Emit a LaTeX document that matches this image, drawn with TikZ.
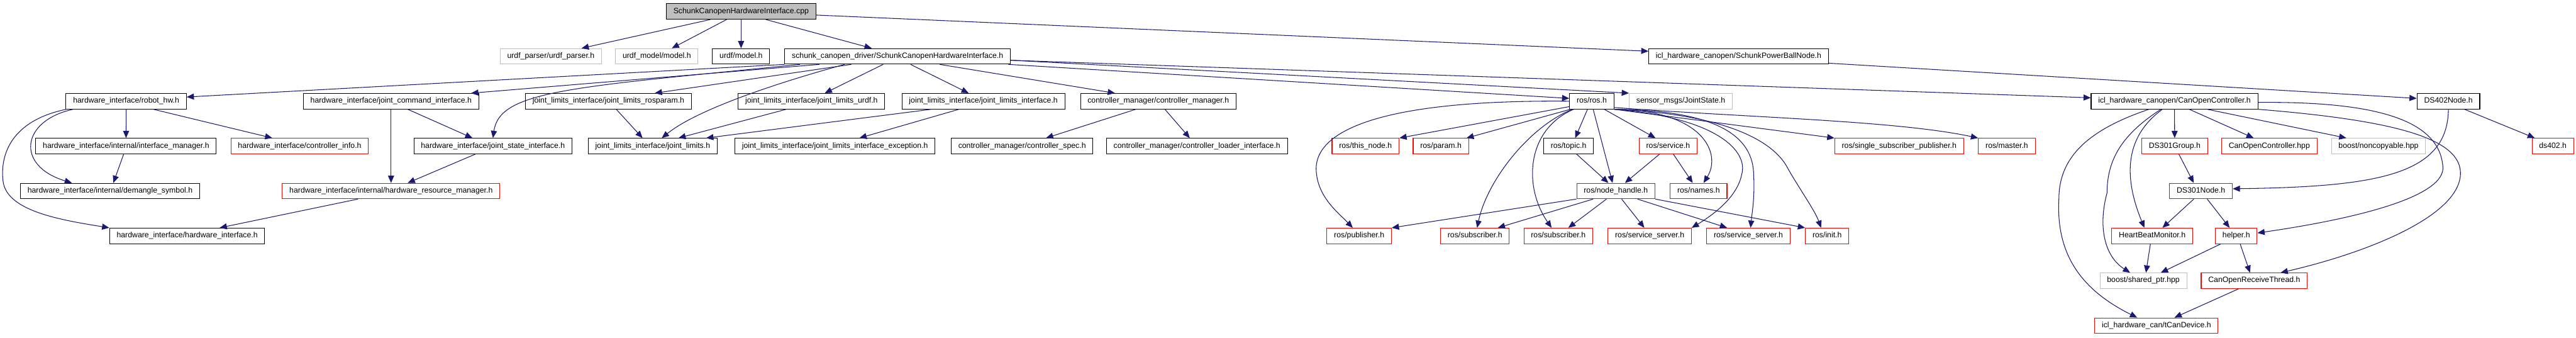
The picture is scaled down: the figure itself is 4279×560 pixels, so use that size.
\documentclass[tikz,border=0pt]{standalone}
\usepackage{fontspec}
\setmainfont{Liberation Sans}
\usetikzlibrary{arrows.meta}
\definecolor{edgeblue}{HTML}{191970}
\definecolor{greyline}{HTML}{BFBFBF}
\begin{document}
\begin{tikzpicture}[x=1pt,y=-1pt,
 hdr/.style={draw=black,line width=1.1pt,minimum height=25.7pt,inner xsep=11.8pt,inner ysep=0pt,
  font=\fontsize{12.84}{15}\selectfont,text height=9pt,text depth=3pt},
 hdrred/.style={hdr,draw=red},
 hdrgrey/.style={hdr,draw=greyline},
 dep/.style={draw=edgeblue,line width=1.1pt,-{Triangle[length=12pt,width=10pt]}}]
\useasboundingbox (0,0) rectangle (4279,560);
\node[hdr,fill=greyline] (root) at (1231,19) {SchunkCanopenHardwareInterface.cpp};
\node[hdrgrey] (urdfp) at (915,93.5) {urdf\_parser/urdf\_parser.h};
\node[hdrgrey] (urdfm) at (1091,93.5) {urdf\_model/model.h};
\node[hdr] (urdf) at (1231,93.5) {urdf/model.h};
\node[hdr] (schi) at (1491,93.5) {schunk\_canopen\_driver/SchunkCanopenHardwareInterface.h};
\node[hdr] (pball) at (2888,93.5) {icl\_hardware\_canopen/SchunkPowerBallNode.h};
\node[hdr] (robothw) at (209.6,168) {hardware\_interface/robot\_hw.h};
\node[hdr] (jcmd) at (649.6,168) {hardware\_interface/joint\_command\_interface.h};
\node[hdr] (jlros) at (1010.7,168) {joint\_limits\_interface/joint\_limits\_rosparam.h};
\node[hdr] (jlurdf) at (1348,168) {joint\_limits\_interface/joint\_limits\_urdf.h};
\node[hdr] (jlif) at (1633.5,168) {joint\_limits\_interface/joint\_limits\_interface.h};
\node[hdr] (cmgr) at (1924,168) {controller\_manager/controller\_manager.h};
\node[hdr] (ros) at (2644,168) {ros/ros.h};
\node[hdrgrey] (smsg) at (2792,168) {sensor\_msgs/JointState.h};
\node[hdr] (coc) at (3612,168) {icl\_hardware\_canopen/CanOpenController.h};
\node[hdr] (ds402n) at (4067,168) {DS402Node.h};
\node[hdr] (ifmgr) at (209.4,242.5) {hardware\_interface/internal/interface\_manager.h};
\node[hdrred] (cinfo) at (497.8,242.5) {hardware\_interface/controller\_info.h};
\node[hdr] (jstate) at (818.8,242.5) {hardware\_interface/joint\_state\_interface.h};
\node[hdr] (jl) at (1084.3,242.5) {joint\_limits\_interface/joint\_limits.h};
\node[hdr] (jlexc) at (1387,242.5) {joint\_limits\_interface/joint\_limits\_interface\_exception.h};
\node[hdr] (cspec) at (1697.8,242.5) {controller\_manager/controller\_spec.h};
\node[hdr] (cload) at (1988.3,242.5) {controller\_manager/controller\_loader\_interface.h};
\node[hdrred] (thisnode) at (2268.3,242.5) {ros/this\_node.h};
\node[hdrred] (param) at (2393.4,242.5) {ros/param.h};
\node[hdr] (topic) at (2605.5,242.5) {ros/topic.h};
\node[hdrred] (service) at (2770.9,242.5) {ros/service.h};
\node[hdrred] (ssp) at (3154.7,242.5) {ros/single\_subscriber\_publisher.h};
\node[hdrred] (master) at (3333.5,242.5) {ros/master.h};
\node[hdrred] (ds301g) at (3612.3,242.5) {DS301Group.h};
\node[hdrred] (cochpp) at (3769.5,242.5) {CanOpenController.hpp};
\node[hdrgrey] (noncopy) at (3950.9,242.5) {boost/noncopyable.hpp};
\node[hdrred] (ds402) at (4240.5,242.5) {ds402.h};
\node[hdr] (demangle) at (182.8,317) {hardware\_interface/internal/demangle\_symbol.h};
\node[hdrred] (hrm) at (649.6,317) {hardware\_interface/internal/hardware\_resource\_manager.h};
\node[hdrred] (nodeh) at (2684,317) {ros/node\_handle.h};
\node[hdrred] (names) at (2821.5,317) {ros/names.h};
\node[hdrred] (ds301n) at (3656,317) {DS301Node.h};
\node[hdr] (hwif) at (310.9,391.5) {hardware\_interface/hardware\_interface.h};
\node[hdrred] (pub) at (2257.7,391.5) {ros/publisher.h};
\node[hdrred] (sub1) at (2450,391.5) {ros/subscriber.h};
\node[hdrred] (sub2) at (2588.4,391.5) {ros/subscriber.h};
\node[hdrred] (srv1) at (2740.3,391.5) {ros/service\_server.h};
\node[hdrred] (srv2) at (2904.2,391.5) {ros/service\_server.h};
\node[hdrred] (init) at (3035,391.5) {ros/init.h};
\node[hdrred] (hbm) at (3575,391.5) {HeartBeatMonitor.h};
\node[hdrred] (helper) at (3714.6,391.5) {helper.h};
\node[hdrgrey] (sptr) at (3560.3,466) {boost/shared\_ptr.hpp};
\node[hdrred] (crt) at (3744.5,466) {CanOpenReceiveThread.h};
\node[hdrred] (tcan) at (3582,540.5) {icl\_hardware\_can/tCanDevice.h};
\draw[dep] ([xshift=-51pt]root.south) -- ([xshift=51pt]urdfp.north);
\draw[dep] ([xshift=-24pt]root.south) -- ([xshift=25pt]urdfm.north);
\draw[dep] (root.south) -- (urdf.north);
\draw[dep] ([xshift=41pt]root.south) -- ([xshift=-43pt]schi.north);
\draw[dep] ([yshift=-6pt]root.east) -- ([yshift=8.5pt]pball.west);
\draw[dep] (schi.south west) -- ([yshift=7pt]robothw.east);
\draw[dep] ([xshift=-130pt]schi.south) -- ([xshift=133pt]jcmd.north);
\draw[dep] ([xshift=-162pt]schi.south) .. controls (950,145) and (830,150) .. (jstate.north);
\draw[dep] ([xshift=-77pt]schi.south) -- ([xshift=77pt]jlros.north);
\draw[dep] ([xshift=-88pt]schi.south) .. controls (1300,135) and (1160,180) .. ([xshift=15pt]jl.north);
\draw[dep] ([xshift=-24pt]schi.south) -- ([xshift=22pt]jlurdf.north);
\draw[dep] ([xshift=21.5pt]schi.south) -- ([xshift=-24.5pt]jlif.north);
\draw[dep] ([xshift=70pt]schi.south) -- ([xshift=-72pt]cmgr.north);
\draw[dep] ([xshift=-4pt]schi.south east) -- ([yshift=4.7pt]ros.west);
\draw[dep] ([yshift=-6.5pt]schi.east) -- (smsg.north west);
\draw[dep] ([yshift=-6.5pt]schi.east) -- ([yshift=5.7pt]coc.west);
\draw[dep] ([yshift=2pt]pball.south east) -- ([yshift=4.7pt]ds402n.west);
\draw[dep] (robothw.south) -- (ifmgr.north);
\draw[dep] ([xshift=45pt]robothw.south) -- ([xshift=-45.5pt]cinfo.north);
\draw[dep] ([xshift=-88pt]robothw.south) .. controls (35,200) and (25,275) .. ([xshift=-63.4pt]demangle.north);
\draw[dep] ([xshift=-99.4pt]robothw.south) .. controls (20,200) and (0,255) .. (5,300)
 .. controls (10,350) and (100,365) .. (hwif.north west);
\draw[dep] ([xshift=-4pt]ifmgr.south) -- ([xshift=5.5pt]demangle.north);
\draw[dep] ([xshift=27.7pt]jcmd.south) -- ([xshift=-34pt]jstate.north);
\draw[dep] (jcmd.south) -- (hrm.north);
\draw[dep] ([xshift=-29.3pt]jstate.south) -- ([xshift=27.7pt]hrm.north);
\draw[dep] ([xshift=-55pt]hrm.south) -- ([xshift=54pt]hwif.north);
\draw[dep] ([xshift=13pt]jlros.south) -- ([xshift=-17pt]jl.north);
\draw[dep] ([xshift=-42pt]jlurdf.south) -- ([xshift=42.7pt]jl.north);
\draw[dep] ([xshift=-86.5pt]jlif.south) -- ([xshift=88.7pt]jl.north);
\draw[dep] ([xshift=-40.6pt]jlif.south) -- ([xshift=40.6pt]jlexc.north);
\draw[dep] ([xshift=-37.3pt]cmgr.south) -- ([xshift=39.7pt]cspec.north);
\draw[dep] ([xshift=11pt]cmgr.south) -- ([xshift=-12pt]cload.north);
\draw[dep] (ros.west) .. controls (2300,165) and (2175,215) .. (2187,290)
 .. controls (2192,330) and (2225,355) .. ([xshift=-10.7pt]pub.north);
\draw[dep] ([yshift=-9pt]ros.west) -- (thisnode.north east);
\draw[dep] ([xshift=2pt]ros.south west) -- ([xshift=-4pt]param.north east);
\draw[dep] ([xshift=-32pt]ros.south) .. controls (2540,210) and (2470,300) .. ([xshift=3.6pt]sub1.north);
\draw[dep] ([xshift=-30pt]ros.south) .. controls (2535,215) and (2530,310) .. ([xshift=-11pt]sub2.north);
\draw[dep] ([xshift=-7pt]ros.south) -- ([xshift=11pt]topic.north);
\draw[dep] ([xshift=2.4pt]ros.south) -- ([xshift=-5.4pt]nodeh.north);
\draw[dep] ([xshift=20.8pt]ros.south) -- ([xshift=-21pt]service.north);
\draw[dep] (ros.south east) .. controls (2830,183) and (2860,255) .. ([xshift=8.3pt]names.north);
\draw[dep] (ros.south east) .. controls (2850,195) and (2905,250) .. (2893,290)
 .. controls (2885,330) and (2840,360) .. (srv1.north east);
\draw[dep] (ros.south east) .. controls (2860,183) and (2912,230) .. (2913,290)
 .. controls (2915,330) and (2910,355) .. ([xshift=3.7pt]srv2.north);
\draw[dep] (ros.south east) .. controls (2880,190) and (2950,240) .. (2970,280)
 .. controls (2990,315) and (3015,350) .. ([xshift=-10pt]init.north);
\draw[dep] (ros.south east) -- (ssp.north west);
\draw[dep] ([yshift=3pt]ros.south east) .. controls (2900,195) and (3150,200) .. (master.north west);
\draw[dep] ([xshift=13.4pt]topic.south) -- ([xshift=-12.3pt]nodeh.north);
\draw[dep] ([xshift=-14.3pt]service.south) -- ([xshift=15.2pt]nodeh.north);
\draw[dep] ([xshift=8.7pt]service.south) -- ([xshift=-9.8pt]names.north);
\draw[dep] (nodeh.south west) -- (pub.north east);
\draw[dep] ([xshift=-37.6pt]nodeh.south) -- ([xshift=38pt]sub1.north);
\draw[dep] ([xshift=-15.5pt]nodeh.south) -- ([xshift=16.7pt]sub2.north);
\draw[dep] ([xshift=9.7pt]nodeh.south) -- ([xshift=-8.9pt]srv1.north);
\draw[dep] ([xshift=36pt]nodeh.south) -- ([xshift=-35.3pt]srv2.north);
\draw[dep] (nodeh.south east) -- (init.north west);
\draw[dep] (coc.south) -- (ds301g.north);
\draw[dep] ([xshift=24.6pt]coc.south) -- ([xshift=-26pt]cochpp.north);
\draw[dep] ([xshift=54.4pt]coc.south) -- ([xshift=-53.4pt]noncopy.north);
\draw[dep] ([xshift=-20pt]coc.south) .. controls (3525,230) and (3530,300) .. ([xshift=-13pt]hbm.north);
\draw[dep] ([xshift=-22.6pt]coc.south) .. controls (3530,220) and (3500,260) .. (3500,320)
 .. controls (3485,375) and (3495,425) .. ([xshift=-22pt]sptr.north);
\draw[dep] ([xshift=-42.4pt]coc.south) .. controls (3470,215) and (3420,260) .. (3420,330)
 .. controls (3415,420) and (3455,480) .. ([xshift=-32pt]tcan.north);
\draw[dep] ([yshift=-2pt]coc.east) .. controls (3950,168) and (4055,200) .. (4058,280)
 .. controls (4055,330) and (3900,365) .. ([yshift=4.8pt]helper.east);
\draw[dep] (coc.south east) .. controls (3980,200) and (4090,230) .. (4087,290)
 .. controls (4083,360) and (3930,420) .. ([xshift=43.7pt]crt.north);
\draw[dep] ([xshift=26.7pt]ds402n.south) -- ([xshift=-30pt]ds402.north);
\draw[dep] (ds402n.south) .. controls (4066,290) and (3950,310) .. ([yshift=3.7pt]ds301n.east);
\draw[dep] ([xshift=7pt]ds301g.south) -- ([xshift=-12pt]ds301n.north);
\draw[dep] ([xshift=-12pt]ds301n.south) -- ([xshift=17pt]hbm.north);
\draw[dep] ([xshift=10.4pt]ds301n.south) -- ([xshift=-11pt]helper.north);
\draw[dep] ([xshift=-3pt]hbm.south) -- ([xshift=4.3pt]sptr.north);
\draw[dep] ([xshift=-25.8pt]helper.south) -- ([xshift=29pt]sptr.north);
\draw[dep] ([xshift=6.5pt]helper.south) -- ([xshift=-7pt]crt.north);
\draw[dep] ([xshift=-26pt]crt.south) -- ([xshift=30pt]tcan.north);
\end{tikzpicture}
\end{document}
